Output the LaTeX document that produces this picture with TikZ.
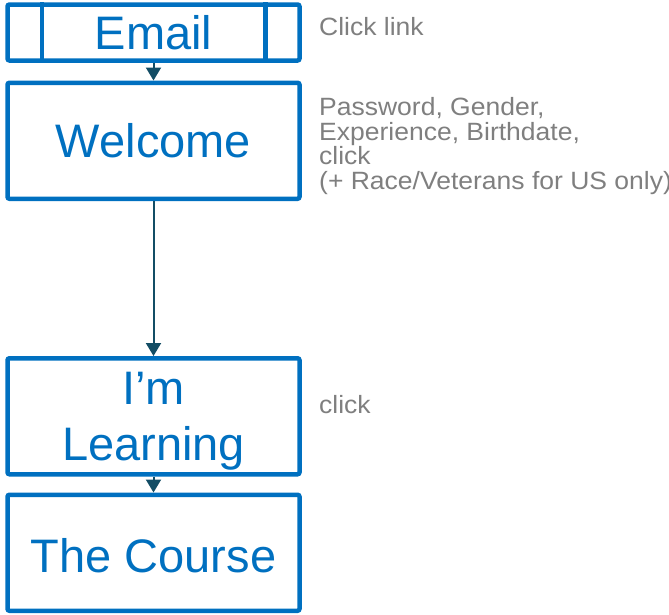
\documentclass[tikz,border=0pt]{standalone}
\usepackage{fontspec}
\setmainfont{Liberation Sans}
\newfontfamily\notefont[FakeStretch=1.06]{Liberation Sans}
\usetikzlibrary{positioning, arrows.meta}

\definecolor{boxblue}{HTML}{0070C0}
\definecolor{notegray}{HTML}{7F7F7F}
\definecolor{flowteal}{HTML}{134D65}

\begin{document}
\begin{tikzpicture}[
    x=1pt, y=-1pt,
    screen/.style={rectangle, draw=boxblue, line width=4.5pt, rounded corners=2pt,
        minimum width=292pt, minimum height=116pt, inner sep=0pt,
        text=boxblue, align=center, font=\fontsize{47}{56}\selectfont},
    flow/.style={-{Triangle[length=13pt, width=15pt]}, line width=2pt, flowteal},
    note/.style={anchor=north west, inner sep=0pt, align=left, text=notegray,
        font=\notefont\fontsize{25}{24.5}\selectfont}
]
\useasboundingbox (0,0) rectangle (669,614);

% Screens
\node[screen, minimum height=56pt] (email) at (153.5, 32.5) {Email};
\node[screen] (welcome) at (153.5, 140.75) {Welcome};
\node[screen, text depth=0pt] (learning) at (153.5, 416.25) {I’m\\Learning};
\node[screen, text height=40pt] (course) at (153.5, 552.75) {The Course};

% side bars of the email box
\draw[boxblue, line width=4.5pt] ([xshift=36.5pt]email.north west) -- ([xshift=36.5pt]email.south west);
\draw[boxblue, line width=4.5pt] ([xshift=-36.5pt]email.north east) -- ([xshift=-36.5pt]email.south east);

% Flow
\draw[flow] (email) -- (welcome);
\draw[flow] (welcome) -- (learning);
\draw[flow] (learning) -- (course);

% Notes
\node[note] (noteemail) at (319, 17) {Click link};
\node[note] (notewelcome) at (319, 97.5) {Password, Gender,\\Experience, Birthdate,\\click\\(+ Race/Veterans for US only)};
\node[note] (notelearning) at (319, 395.5) {click};

\end{tikzpicture}
\end{document}
